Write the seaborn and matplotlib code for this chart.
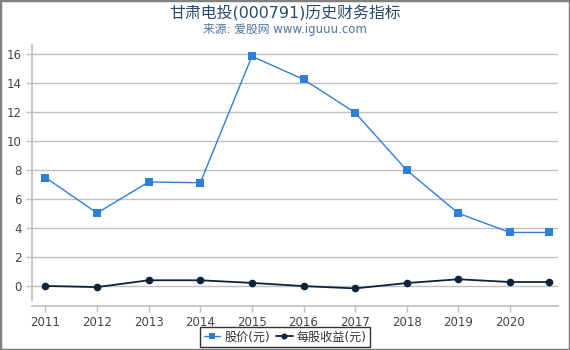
import matplotlib
matplotlib.use("Agg")
import matplotlib.pyplot as plt
import seaborn as sns
import pandas as pd
from matplotlib.patches import Rectangle

years = [2011, 2012, 2013, 2014, 2015, 2016, 2017, 2018, 2019, 2020, 2020.75]
price = [7.50, 5.05, 7.19, 7.14, 15.86, 14.27, 11.97, 8.00, 5.03, 3.71, 3.71]
eps = [0.02, -0.06, 0.41, 0.41, 0.23, 0.01, -0.15, 0.22, 0.48, 0.29, 0.29]
xticks = [2011, 2012, 2013, 2014, 2015, 2016, 2017, 2018, 2019, 2020]
yticks = [0, 2, 4, 6, 8, 10, 12, 14, 16]
title = "甘肃电投(000791)历史财务指标"
subtitle = "来源: 爱股网 www.iguuu.com"
label_price = "股价(元)"
label_eps = "每股收益(元)"

sns.set_theme(style="white")
plt.rcParams['font.family'] = ['DejaVu Sans', 'Noto Sans CJK SC']

df = pd.DataFrame({"year": years, "price": price, "eps": eps})

fig = plt.figure(figsize=(5.7, 3.5), dpi=100)
ax = fig.add_axes([32/570, 1-300/350, (558-32)/570, (300-45)/350])

sns.lineplot(data=df, x="year", y="price", ax=ax, color="#2f7ed8", lw=1.0,
             marker="s", markersize=5.5, markeredgewidth=0, label=label_price)
sns.lineplot(data=df, x="year", y="eps", ax=ax, color="#0d233a", lw=1.3,
             marker="o", markersize=5.5, markeredgewidth=0, label=label_eps)

ax.set_xlim(2010.74, 2020.93)
ax.set_ylim(-0.95, 16.64)
ax.set_xticks(xticks)
ax.set_xticklabels([str(x) for x in xticks])
ax.set_yticks(yticks)
ax.set_xlabel("")
ax.set_ylabel("")
ax.yaxis.grid(True, color="#c0c0c0", lw=1.0)
ax.xaxis.grid(False)
ax.set_axisbelow(True)
for s in ["top", "right"]:
    ax.spines[s].set_visible(False)
ax.spines["left"].set_color("#c0c0c0")
ax.spines["bottom"].set_color("#c0c0c0")
ax.spines["bottom"].set_position(("outward", 4))
ax.tick_params(axis="both", colors="#c0c0c0", labelcolor="#444444", labelsize=8.5,
               length=4, width=1, left=True, bottom=True, direction="out")

leg = ax.legend(loc="center", bbox_to_anchor=(0.5, 1-337/350),
                bbox_transform=fig.transFigure, ncol=2,
                frameon=True, fancybox=False, fontsize=8.7, handlelength=1.4,
                handletextpad=0.3, columnspacing=0.5, borderpad=0.3,
                edgecolor="black", markerscale=0.8)
leg.get_frame().set_linewidth(1.0)
for t in leg.get_texts():
    t.set_color("#333333")

fig.text(0.5, 1-13/350, title, ha="center", va="center", fontsize=11.4, color="#274b6d")
fig.text(0.5, 1-29/350, subtitle, ha="center", va="center", fontsize=8.5, color="#4d759e")

fig.patches.append(Rectangle((0, 0), 1, 1, transform=fig.transFigure, fill=False,
                             edgecolor="#808080", lw=2.5))

fig.savefig("out.png", dpi=100)
